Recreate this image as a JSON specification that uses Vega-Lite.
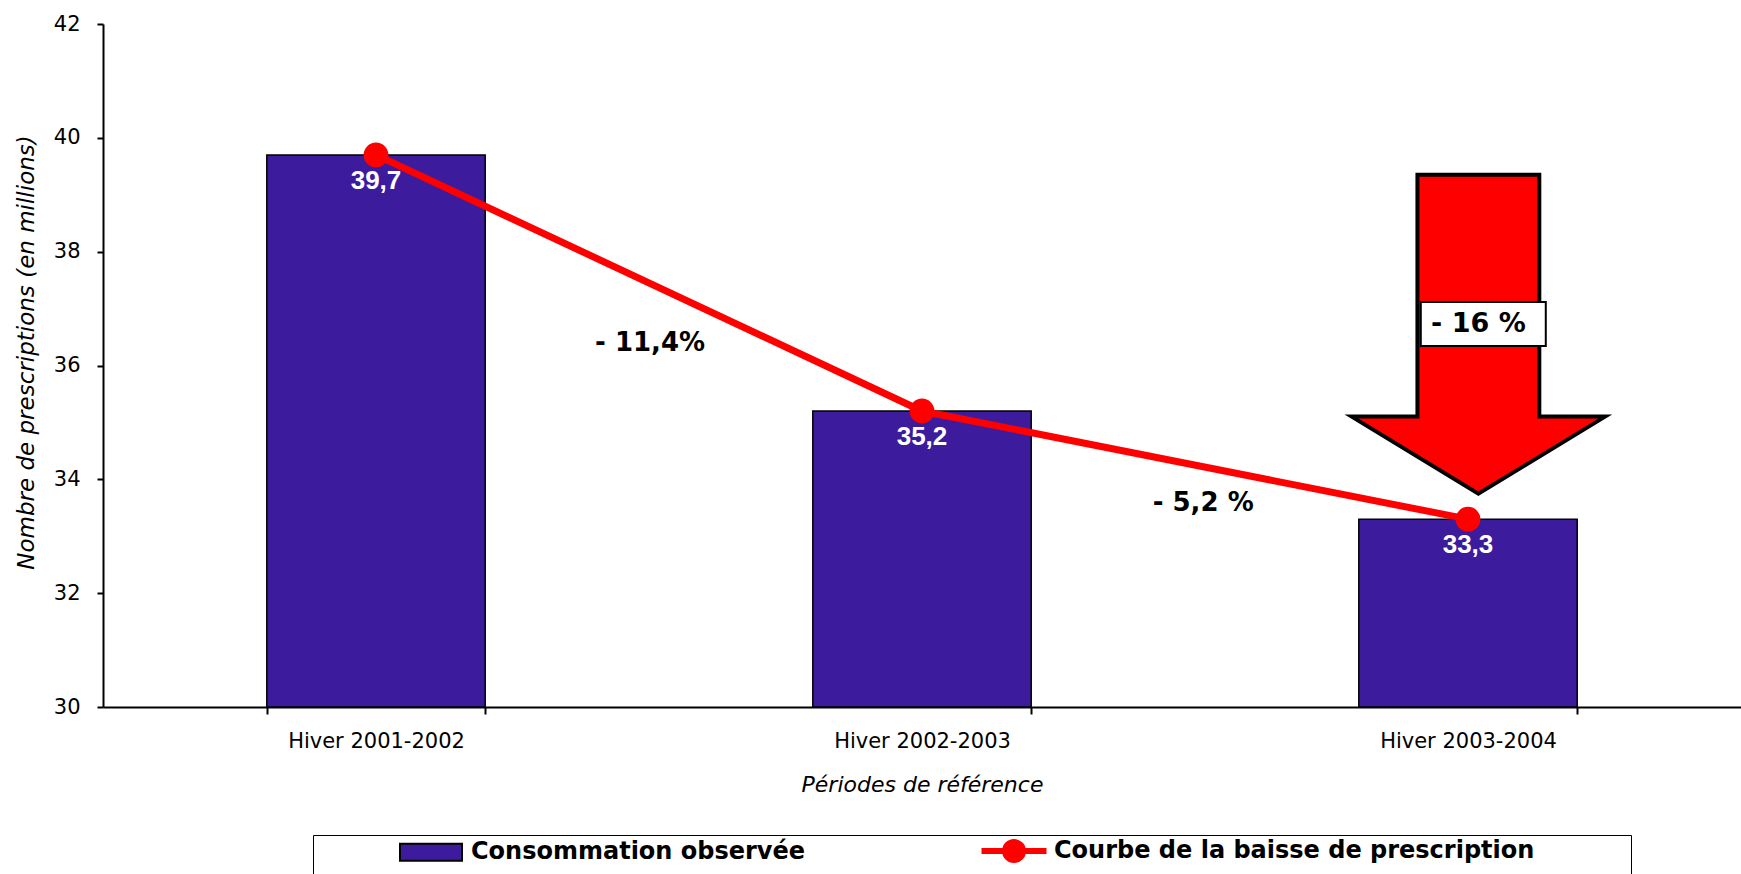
{
  "$schema": "https://vega.github.io/schema/vega-lite/v6.json",
  "width": 1638,
  "height": 683,
  "autosize": {"type": "none"},
  "padding": {"left": 103, "top": 24, "right": 0, "bottom": 167},
  "background": "white",
  "config": {
    "font": "DejaVu Sans",
    "view": {"stroke": null},
    "locale": {"number": {"decimal": ",", "thousands": " ", "grouping": [3], "currency": ["", " €"]}},
    "axis": {
      "domainColor": "black", "domainWidth": 2, "tickColor": "black", "tickWidth": 2,
      "labelColor": "black", "titleColor": "black", "grid": false,
      "labelFont": "DejaVu Sans", "titleFont": "DejaVu Sans",
      "titleFontWeight": "normal", "titleFontStyle": "italic"
    }
  },
  "datasets": {
    "prescriptions": [
      {"periode": "Hiver 2001-2002", "valeur": 39.7},
      {"periode": "Hiver 2002-2003", "valeur": 35.2},
      {"periode": "Hiver 2003-2004", "valeur": 33.3}
    ],
    "baisse": [
      {"texte": "- 11,4%", "position": 1.002, "niveau": 36.4},
      {"texte": "- 5,2 %", "position": 2.015, "niveau": 33.58}
    ],
    "total": [
      {"texte": "- 16 %"}
    ],
    "vide": []
  },
  "layer": [
    {
      "data": {"name": "prescriptions"},
      "encoding": {
        "x": {
          "field": "periode", "type": "nominal", "sort": null,
          "scale": {"paddingInner": 0.6, "paddingOuter": 0.3},
          "axis": {
            "title": "Périodes de référence", "labelAngle": 0, "tickBand": "extent",
            "tickSize": 7, "labelPadding": 16, "labelFontSize": 21,
            "titleFontSize": 22, "titlePadding": 23
          }
        },
        "y": {
          "field": "valeur", "type": "quantitative",
          "scale": {"domain": [30, 42], "nice": false, "zero": false},
          "axis": {
            "title": "Nombre de prescriptions (en millions)",
            "values": [30, 32, 34, 36, 38, 40, 42], "format": "d",
            "tickSize": 6, "labelPadding": 17, "labelFontSize": 21,
            "titleFontSize": 23, "titlePadding": 15, "titleY": 328
          }
        }
      },
      "layer": [
        {
          "mark": {"type": "bar", "fill": "#3C1C9C", "stroke": "black", "strokeWidth": 1.5},
          "encoding": {"y2": {"datum": 30}}
        },
        {
          "mark": {"type": "line", "color": "#FF0000", "strokeWidth": 7},
          "encoding": {}
        },
        {
          "mark": {"type": "point", "filled": true, "fill": "#FF0000", "strokeWidth": 0, "size": 616, "opacity": 1},
          "encoding": {}
        },
        {
          "mark": {"type": "text", "color": "white", "font": "Liberation Sans", "fontWeight": "bold", "fontSize": 26, "baseline": "alphabetic", "align": "center", "dy": 34},
          "encoding": {"text": {"field": "valeur", "type": "quantitative", "format": ".1f"}}
        }
      ]
    },
    {
      "data": {"name": "vide"},
      "mark": {"type": "point", "filled": true},
      "encoding": {
        "fill": {
          "datum": "Courbe de la baisse de prescription", "type": "nominal",
          "scale": {"domain": ["Consommation observée", "Courbe de la baisse de prescription"], "range": ["#3C1C9C", "#FF0000"]},
          "legend": {
            "orient": "none", "legendX": 210, "legendY": 811, "direction": "horizontal",
            "title": "\u00a0", "titleOrient": "left", "titleFontSize": 60, "titlePadding": 81,
            "padding": 4, "strokeColor": "black",
            "labelFont": "DejaVu Sans", "labelFontSize": 24, "labelFontWeight": "bold", "labelColor": "black", "labelLimit": 1000,
            "symbolSize": 400, "symbolStrokeWidth": 2, "symbolOpacity": 1, "labelOffset": 49, "columnPadding": 172,
            "labelExpr": "datum.index == 1 ? datum.label + '\u00a0\u00a0\u00a0\u00a0\u00a0\u00a0\u00a0\u00a0\u00a0\u00a0\u00a0\u200b' : datum.label"
          }
        },
        "stroke": {
          "datum": "Courbe de la baisse de prescription", "type": "nominal",
          "scale": {"domain": ["Consommation observée", "Courbe de la baisse de prescription"], "range": ["black", "#FF0000"]},
          "legend": {
            "orient": "none", "legendX": 210, "legendY": 811, "direction": "horizontal",
            "title": "\u00a0", "titleOrient": "left", "titleFontSize": 60, "titlePadding": 81,
            "padding": 4, "strokeColor": "black",
            "labelFont": "DejaVu Sans", "labelFontSize": 24, "labelFontWeight": "bold", "labelColor": "black", "labelLimit": 1000,
            "symbolSize": 400, "symbolStrokeWidth": 2, "symbolOpacity": 1, "labelOffset": 49, "columnPadding": 172,
            "labelExpr": "datum.index == 1 ? datum.label + '\u00a0\u00a0\u00a0\u00a0\u00a0\u00a0\u00a0\u00a0\u00a0\u00a0\u00a0\u200b' : datum.label"
          }
        },
        "shape": {
          "datum": "Courbe de la baisse de prescription", "type": "nominal",
          "scale": {
            "domain": ["Consommation observée", "Courbe de la baisse de prescription"],
            "range": [
              "M-1,-0.85L5.2,-0.85L5.2,0.85L-1,0.85Z",
              "M-1.05,-0.2L5.25,-0.2L5.25,0.2L-1.05,0.2Z M3.2,0C3.2,0.6075 2.7075,1.1 2.1,1.1C1.4925,1.1 1,0.6075 1,0C1,-0.6075 1.4925,-1.1 2.1,-1.1C2.7075,-1.1 3.2,-0.6075 3.2,0Z"
            ]
          },
          "legend": {
            "orient": "none", "legendX": 210, "legendY": 811, "direction": "horizontal",
            "title": "\u00a0", "titleOrient": "left", "titleFontSize": 60, "titlePadding": 81,
            "padding": 4, "strokeColor": "black",
            "labelFont": "DejaVu Sans", "labelFontSize": 24, "labelFontWeight": "bold", "labelColor": "black", "labelLimit": 1000,
            "symbolSize": 400, "symbolStrokeWidth": 2, "symbolOpacity": 1, "labelOffset": 49, "columnPadding": 172,
            "labelExpr": "datum.index == 1 ? datum.label + '\u00a0\u00a0\u00a0\u00a0\u00a0\u00a0\u00a0\u00a0\u00a0\u00a0\u00a0\u200b' : datum.label"
          }
        }
      }
    },
    {
      "layer": [
        {
          "data": {"name": "total"},
          "mark": {
            "type": "point", "filled": true, "fill": "#FF0000", "stroke": "black", "strokeWidth": 4,
            "strokeJoin": "miter", "opacity": 1, "size": 105625,
            "shape": "M-0.375,-0.988L0.375,-0.988L0.375,0.5L0.78,0.5L0,0.975L-0.78,0.5L-0.375,0.5Z"
          },
          "encoding": {
            "x": {"datum": 2.519, "type": "quantitative", "scale": {"domain": [0, 3], "nice": false, "zero": false}, "axis": null},
            "y": {"datum": 36.53, "type": "quantitative"}
          }
        },
        {
          "data": {"name": "total"},
          "mark": {
            "type": "point", "filled": true, "fill": "white", "stroke": "black", "strokeWidth": 2,
            "opacity": 1, "size": 15625,
            "shape": "M-1,-0.352L1,-0.352L1,0.352L-1,0.352Z"
          },
          "encoding": {
            "x": {"datum": 2.528, "type": "quantitative", "scale": {"domain": [0, 3], "nice": false, "zero": false}, "axis": null},
            "y": {"datum": 36.73, "type": "quantitative"}
          }
        },
        {
          "data": {"name": "total"},
          "mark": {"type": "text", "font": "DejaVu Sans", "fontWeight": "bold", "fontSize": 27, "color": "black", "align": "center", "baseline": "middle"},
          "encoding": {
            "x": {"datum": 2.519, "type": "quantitative", "scale": {"domain": [0, 3], "nice": false, "zero": false}, "axis": null},
            "y": {"datum": 36.73, "type": "quantitative"},
            "text": {"field": "texte"}
          }
        },
        {
          "data": {"name": "baisse"},
          "mark": {"type": "text", "font": "DejaVu Sans", "fontWeight": "bold", "fontSize": 26, "color": "black", "align": "center", "baseline": "middle"},
          "encoding": {
            "x": {"field": "position", "type": "quantitative", "scale": {"domain": [0, 3], "nice": false, "zero": false}, "axis": null},
            "y": {"field": "niveau", "type": "quantitative"},
            "text": {"field": "texte"}
          }
        }
      ]
    }
  ],
  "resolve": {"scale": {"x": "independent"}}
}
